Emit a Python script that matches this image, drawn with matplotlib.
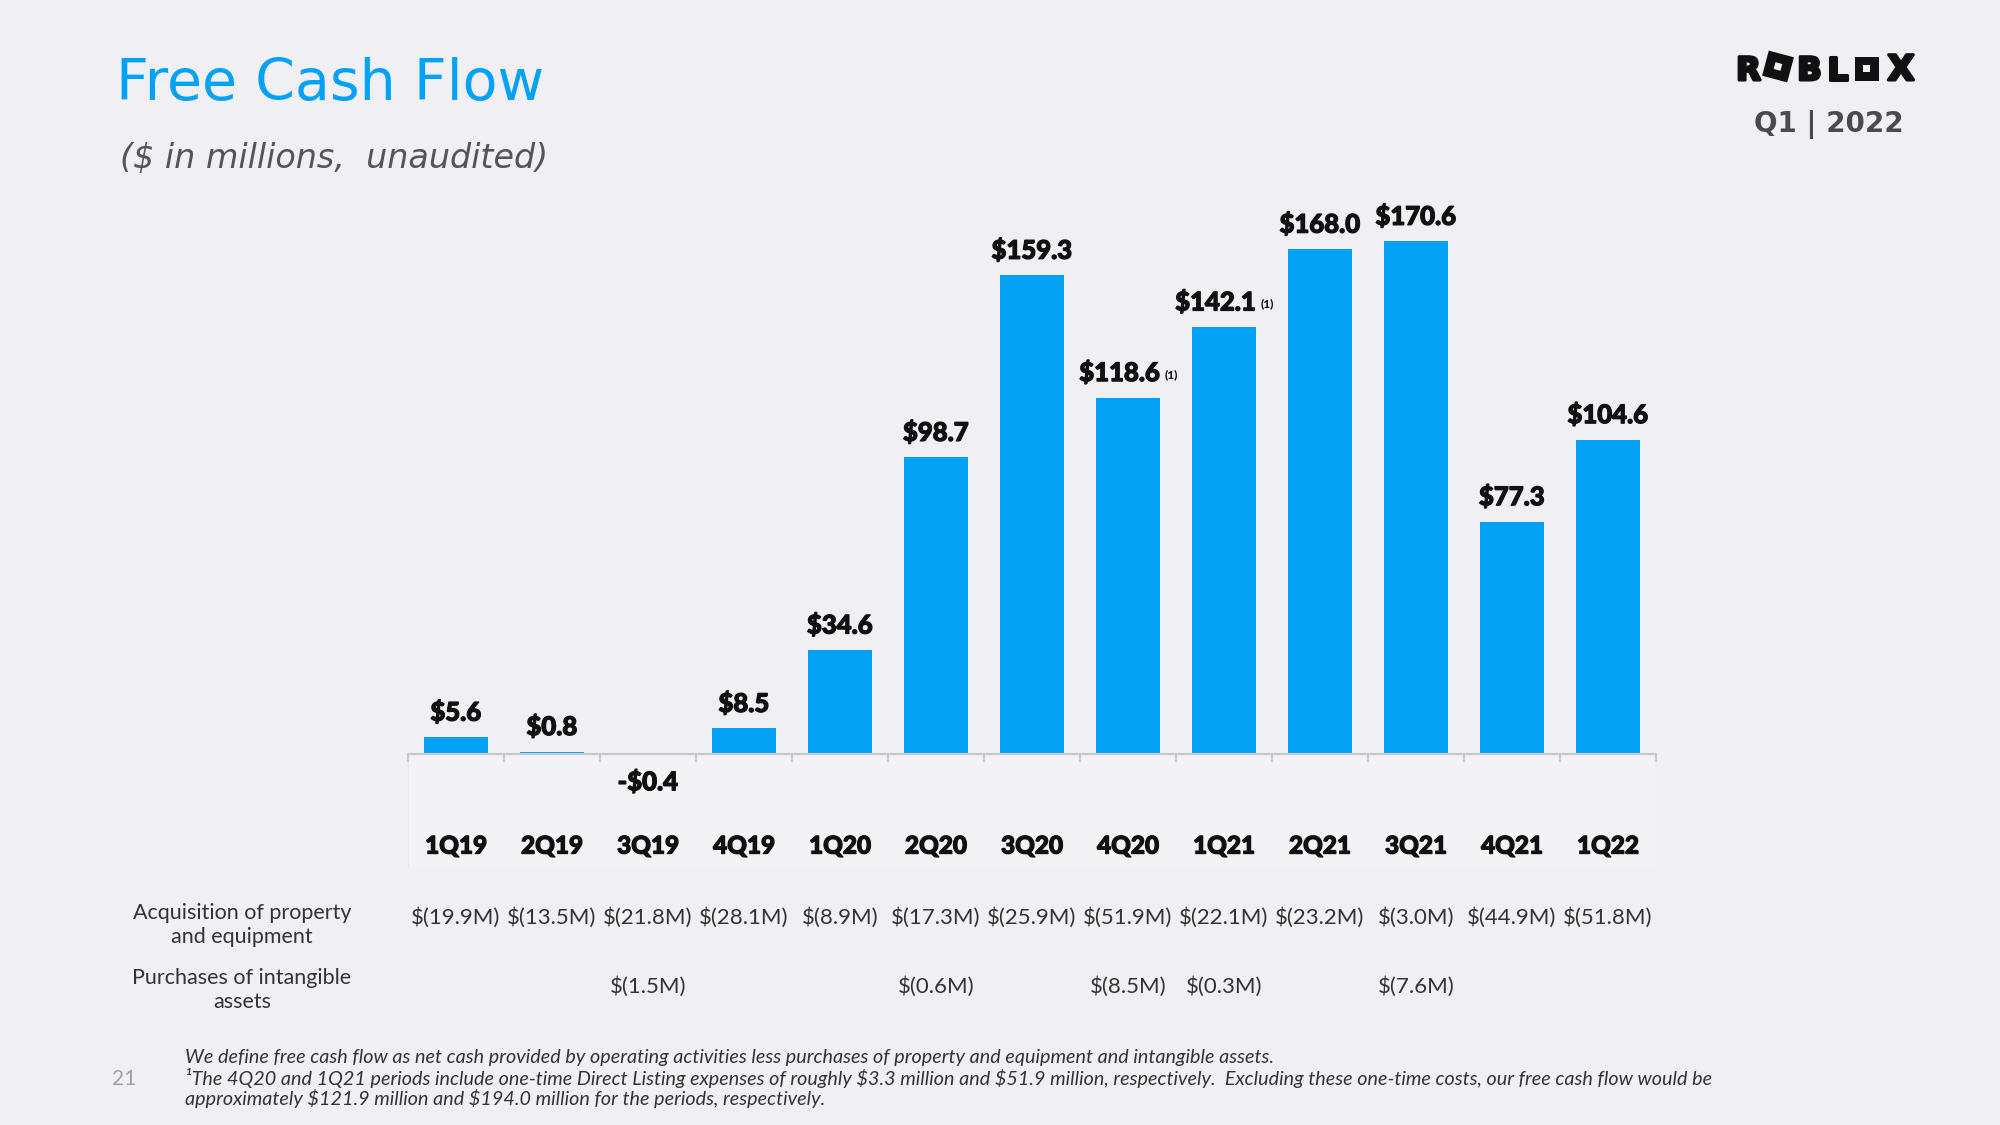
import numpy as np
import matplotlib.pyplot as plt
import matplotlib.transforms as mtransforms
import matplotlib.patheffects as pe
from matplotlib.patches import Rectangle

# data --------------------------------------------------------------
quarters = ['1Q19', '2Q19', '3Q19', '4Q19', '1Q20', '2Q20', '3Q20',
            '4Q20', '1Q21', '2Q21', '3Q21', '4Q21', '1Q22']
fcf = [5.6, 0.8, -0.4, 8.5, 34.6, 98.7, 159.3, 118.6, 142.1, 168.0, 170.6, 77.3, 104.6]
footnoted = ['4Q20', '1Q21']
capex = ['$(19.9M)', '$(13.5M)', '$(21.8M)', '$(28.1M)', '$(8.9M)', '$(17.3M)', '$(25.9M)',
         '$(51.9M)', '$(22.1M)', '$(23.2M)', '$(3.0M)', '$(44.9M)', '$(51.8M)']
intangibles = ['', '', '$(1.5M)', '', '', '$(0.6M)', '', '$(8.5M)', '$(0.3M)', '', '$(7.6M)', '', '']
row_labels = ['Acquisition of property\nand equipment', 'Purchases of intangible\nassets']
notes = ['We define free cash flow as net cash provided by operating activities less purchases of property and equipment and intangible assets.',
         '\u00b9The 4Q20 and 1Q21 periods include one-time Direct Listing expenses of roughly $3.3 million and $51.9 million, respectively.  Excluding these one-time costs, our free cash flow would be',
         'approximately $121.9 million and $194.0 million for the periods, respectively.']

BG = '#F0F0F4'
BLUE = '#03A2F5'
INK = '#111111'
W, H = 2000, 1125


def fx(px):
    return px / W


def fy(py):
    return 1 - py / H


fig = plt.figure(figsize=(20, 11.25), dpi=100, facecolor=BG)
heavy = [pe.withStroke(linewidth=0.9, foreground=INK)]

# main bar chart ----------------------------------------------------
px_per_unit = 3.005
ax = fig.add_axes([fx(408), fy(868), fx(1248), (868 - 200) / H])
ax.set_facecolor('none')
x = np.arange(len(quarters))
ax.set_xlim(-0.5, len(quarters) - 0.5)
ax.set_ylim(-(868 - 754) / px_per_unit, (754 - 200) / px_per_unit)
ax.axhspan(ax.get_ylim()[0], 0, facecolor='#F3F3F6', edgecolor='#E8E8EC', lw=0.8, zorder=0)
ax.bar(x, fcf, width=0.66, color=BLUE, zorder=2)

for s in ['top', 'left', 'right']:
    ax.spines[s].set_visible(False)
ax.spines['bottom'].set_position(('data', 0))
ax.spines['bottom'].set_color('#CACACE')
ax.spines['bottom'].set_linewidth(1.5)
ax.set_yticks([])
ax.set_xticks(x, quarters)
ax.set_xticks(np.arange(-0.5, len(quarters)), minor=True)
ax.tick_params(axis='x', which='major', length=0, pad=58, labelsize=17.5, labelcolor=INK)
ax.tick_params(axis='x', which='minor', length=6, width=1.5, color='#CACACE')
for lab in ax.get_xticklabels():
    lab.set_fontfamily('Lato')
    lab.set_fontweight('black')
    lab.set_path_effects(heavy)

for i, v in enumerate(fcf):
    if v >= 0:
        dx = -6 if quarters[i] in footnoted else 0
        t = ax.annotate(f'${v:.1f}', (i, v), xytext=(dx, 9), textcoords='offset points',
                        ha='center', va='bottom', fontsize=18.5, fontweight='black',
                        family='Lato', color=INK, parse_math=False, zorder=4,
                        path_effects=heavy)
        if quarters[i] in footnoted:
            ax.annotate('(1)', xy=(1, 0.42), xycoords=t, xytext=(3, 0), textcoords='offset points',
                        ha='left', va='center', fontsize=8.5, fontweight='black',
                        family='Lato', color=INK)
    else:
        ax.annotate(f'-${-v:.1f}', (i, 0), xytext=(0, -11), textcoords='offset points',
                    ha='center', va='top', fontsize=18.5, fontweight='black',
                    family='Lato', color=INK, parse_math=False, path_effects=heavy)

# table rows under the chart ----------------------------------------
trans = mtransforms.blended_transform_factory(ax.transData, fig.transFigure)
for row, yy in [(capex, 918), (intangibles, 987)]:
    for i, s in enumerate(row):
        if s:
            ax.text(i, fy(yy), s, transform=trans, ha='center', va='center', fontsize=16,
                    family='Lato', color='#333333', clip_on=False, parse_math=False)

fig.text(fx(242), fy(925), row_labels[0], ha='center', va='center', fontsize=15.5,
         family='Lato', color='#333333', linespacing=1.2)
fig.text(fx(242), fy(990), row_labels[1], ha='center', va='center', fontsize=15.5,
         family='Lato', color='#333333', linespacing=1.2)

# titles ------------------------------------------------------------
fig.text(fx(116), fy(100), 'Free Cash Flow', fontsize=41, color=BLUE, family='DejaVu Sans',
         va='baseline')
fig.text(fx(120), fy(168), '($ in millions,  unaudited)', fontsize=24, color='#555555',
         family='DejaVu Sans', style='italic', va='baseline', parse_math=False)
fig.text(fx(1829), fy(132), 'Q1 | 2022', fontsize=20, color='#4A4A4A', family='DejaVu Sans',
         fontweight='bold', ha='center', va='baseline')

# footnotes ---------------------------------------------------------
for yy, s in zip([1057, 1078, 1098], notes):
    fig.text(fx(185), fy(yy), s, fontsize=14.25, color='#333333', family=['Lato', 'DejaVu Sans'],
             style='italic', va='center', parse_math=False)
fig.text(fx(124), fy(1079), '21', fontsize=15, color='#A0A0A8', family='Lato',
         ha='center', va='center')

# logo --------------------------------------------------------------
lg = fig.add_axes([fx(1730), fy(86), fx(200), 40 / H])
lg.set_xlim(1730, 1930)
lg.set_ylim(86, 46)
lg.axis('off')
thick = [pe.withStroke(linewidth=2.2, foreground=INK)]
for ch, cx, sz in [('R', 1748.5, 23), ('B', 1809.5, 23), ('L', 1837.5, 23), ('X', 1901, 25)]:
    lg.text(cx, 80, ch, ha='center', va='baseline', fontsize=sz, fontweight='heavy',
            family='DejaVu Sans', color=INK, path_effects=thick)
for cx, cy, side, ang in [(1778, 66.5, 26, 15), (1866.5, 68.5, 24, 0)]:
    lg.add_patch(Rectangle((cx - side / 2, cy - side / 2), side, side, angle=ang,
                           rotation_point='center', facecolor=INK, edgecolor='none'))
    lg.add_patch(Rectangle((cx - 3.5, cy - 3.5), 7, 7, angle=ang,
                           rotation_point='center', facecolor=BG, edgecolor='none'))

fig.savefig('out.png', dpi=100, facecolor=BG)
